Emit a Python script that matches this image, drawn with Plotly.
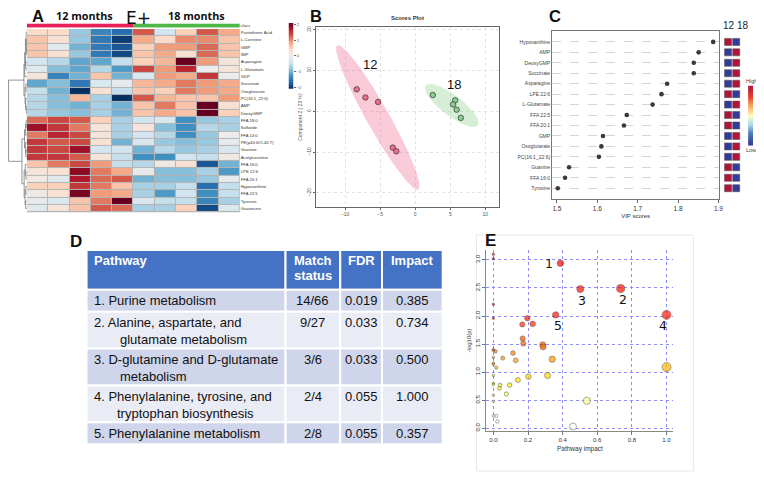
import numpy as np
import plotly.graph_objects as go

# The page body has an 8px default margin, so the figure is drawn 8px in from the top-left.
OFF = 8
W, H = 764 - OFF, 480 - OFF
def fx(p): return (p - OFF) / W
def fy(p): return 1 - (p - OFF) / H

# ---------------- Panel A: heatmap data ----------------
heat_rows = ["Pantothenic Acid", "L-Carnitine", "GMP", "IMP", "Asparagine", "L-Glutamate", "GDP",
             "Succinate", "Oxoglutarate", "PC(16:1_22:6)", "AMP", "DeoxyGMP", "FFA 18:0", "Sulfatide",
             "FFA 14:0", "PE(p40:6/O-40:7)", "Guanine", "Acetylcarnitine", "FFA 16:0", "LPE 22:6",
             "FFA 20:1", "Hypoxanthine", "FFA 22:5", "Tyrosine", "Guanosine"]
heat_class = [0, 0, 0, 0, 0, 1, 1, 1, 1, 1]   # 0 = 12 months, 1 = 18 months
heat_z = [
    [0.4, 0.4, -0.8, -1.4, -1.6, 1.3, -0.4, 0.5, 1.3, 0.8],
    [0.6, 0.3, -0.8, -1.5, -2.0, 0.8, 0.4, 1.0, 1.0, 0.6],
    [0.6, -0.2, -1.0, -1.5, -1.8, 0.5, 0.9, 0.9, 1.2, 0.6],
    [0.6, 0.3, -0.8, -1.5, -1.9, 0.6, 0.8, 0.3, 1.2, 0.6],
    [-0.4, -0.6, -1.1, -1.1, -0.5, 0.5, 0.7, 2.2, 0.9, 0.2],
    [-0.2, -0.9, -1.1, -0.6, -1.2, 1.4, 0.9, 1.6, 0.0, 0.2],
    [0.2, -1.4, -1.0, 0.6, -1.0, -0.3, 0.9, 0.8, 1.5, 0.0],
    [-1.1, -0.9, -1.5, -0.3, -0.1, 0.7, 0.8, 1.1, 0.9, 0.8],
    [-0.5, -1.0, -2.2, 0.3, -0.5, 0.6, 0.5, 1.1, 0.9, 0.8],
    [-0.6, -0.9, 0.7, -0.7, -2.1, 1.3, 0.7, 0.6, 0.6, 0.9],
    [-0.6, -0.9, -1.0, -0.7, -1.0, 0.6, 1.1, 0.6, 2.3, 0.3],
    [-0.6, -0.8, -0.9, -0.7, -1.0, 0.6, 0.8, 0.6, 2.3, 0.5],
    [1.2, 1.4, 1.3, 0.5, -0.7, -0.4, -0.3, -1.3, -0.8, -0.7],
    [1.8, 1.5, 1.1, 0.2, -0.7, 0.2, -0.9, -1.3, -0.6, -0.7],
    [1.1, 1.6, 1.4, 0.2, -0.7, -0.4, -0.6, -1.3, -0.8, 0.0],
    [1.5, 1.3, 1.4, 0.3, -1.0, -0.3, -0.8, -0.9, -0.8, -0.1],
    [1.5, 1.4, 1.8, -0.4, -0.4, -1.0, -0.6, -0.8, -0.7, -0.3],
    [1.5, 1.5, 1.3, 0.2, -0.5, -1.3, -1.3, -0.4, -0.5, 0.1],
    [0.6, 1.1, 1.4, 0.9, -0.5, -0.6, 0.1, 0.3, -1.8, -1.0],
    [0.2, 0.3, 1.9, 1.1, 0.8, -0.1, -0.9, -0.9, -0.7, -1.2],
    [0.1, -0.2, 1.7, 1.2, 1.3, -1.0, -0.9, -0.9, -0.8, -0.1],
    [0.5, 0.5, 1.5, 1.1, 0.6, -0.7, -0.7, -0.5, -1.6, -0.5],
    [0.1, 0.3, 2.0, 0.9, 0.8, -0.7, -1.2, -0.4, -1.3, -0.5],
    [-0.1, -0.3, 0.6, 1.1, 2.3, -0.3, -0.5, -0.5, -1.4, -0.7],
    [-0.2, 0.2, 0.6, 1.3, 1.2, -0.7, -0.7, 0.5, -1.9, -0.3],
]
heat_ticks = [-2, -1, 0, 1, 2]
# dendrogram: (height, left, right); leaves are row indices
dendro_tree = (10.0,
               (1.6,
                (1.2, (0.8, (0.4, 0, (0.3, 1, (0.2, 2, 3))), (0.6, 4, 5)), 6),
                (1.0, (0.5, 7, 8), (0.7, 9, (0.3, 10, 11)))),
               (2.7,
                (1.3, (0.7, (0.4, 12, 13), 14), (0.8, 15, (0.5, 16, 17))),
                (1.5, (0.9, 18, (0.5, 19, 20)), (1.0, (0.6, 21, 22), (0.7, 23, 24)))))

# ---------------- Panel B: scores plot ----------------
pc1_12 = [-8.35, -7.1, -5.3, -3.2, -2.7]
pc2_12 = [5.4, 3.4, 2.3, -8.9, -9.8]
pc1_18 = [2.5, 5.7, 5.4, 5.9, 6.5]
pc2_18 = [4.0, 2.7, 1.7, 0.4, -1.6]
b_xticks = [-10, -5, 0, 5, 10]
b_yticks = [-20, -10, 0, 10, 20]

# ---------------- Panel C: VIP scores ----------------
vip_names = ["Hypoxanthine", "AMP", "DeoxyGMP", "Succinate", "Asparagine", "LPE 22:6", "L-Glutamate",
             "FFA 22:5", "FFA 20:1", "GMP", "Oxoglutarate", "PC(16:1_22:6)", "Guanine", "FFA 16:0", "Tyrosine"]
vip_scores = [1.887, 1.851, 1.839, 1.839, 1.773, 1.759, 1.737, 1.673, 1.666, 1.614, 1.610, 1.604,
              1.530, 1.520, 1.502]
vip_level_12 = [1, 0, 0, 0, 0, 1, 0, 1, 1, 0, 0, 0, 1, 1, 1]
vip_level_18 = [0, 1, 1, 1, 1, 0, 1, 0, 0, 1, 1, 1, 0, 0, 0]
vip_xticks = [1.5, 1.6, 1.7, 1.8, 1.9]

# ---------------- Panel D: table ----------------
tbl_pathway = ["1. Purine metabolism",
               "2. Alanine, aspartate, and|glutamate metabolism",
               "3. D-glutamine and D-glutamate|metabolism",
               "4. Phenylalanine, tyrosine, and|tryptophan biosynthesis",
               "5. Phenylalanine metabolism"]
tbl_match = ["14/66", "9/27", "3/6", "2/4", "2/8"]
tbl_fdr = ["0.019", "0.033", "0.033", "0.055", "0.055"]
tbl_impact = ["0.385", "0.734", "0.500", "1.000", "0.357"]
tbl_header = ["Pathway", "Match|status", "FDR", "Impact"]

# ---------------- Panel E: pathway impact ----------------
pw_impact = [0.387, 0.502, 0.735, 1.0, 0.360, 1.0, 0.54, 0.46,
             0.196, 0.167, 0.227, 0.169, 0.173, 0.285, 0.287,
             0.113, 0.129, 0.054, 0.340,
             0.313, 0.202, 0.142,
             0.094, 0.038, 0.035, 0.075,
             0, 0, 0, 0, 0, 0, 0.013, 0, 0, 0, 0.017, 0, 0, 0, 0, 0, 0, 0.017, 0.023]
pw_logp = [2.94, 2.48, 2.49, 2.02, 2.02, 1.09, 0.49, 0.03,
           1.96, 1.85, 1.86, 1.60, 1.51, 1.49, 1.45,
           1.34, 1.21, 1.25, 1.23,
           0.94, 0.92, 0.86,
           0.77, 0.77, 0.71, 0.61,
           3.10, 3.02, 2.21, 1.96, 1.40, 1.39, 1.37, 1.26, 1.16, 1.14, 1.08, 0.94, 0.80, 0.78, 0.59,
           0.48, 0.22, 0.22, 0.12]
pw_label = ["1", "3", "2", "4", "5"] + [""] * 40
e_xticks = [0.0, 0.2, 0.4, 0.6, 0.8, 1.0]
e_yticks = [0.0, 0.5, 1.0, 1.5, 2.0, 2.5, 3.0]

FONT = "Liberation Sans"
fig = go.Figure()
annotations = []
shapes = []

# ---- A heatmap ----
rdbu = [[0.0, "#053061"], [0.1, "#2166ac"], [0.2, "#4393c3"], [0.3, "#92c5de"], [0.4, "#d1e5f0"],
        [0.5, "#ececec"], [0.6, "#fddbc7"], [0.7, "#f4a582"], [0.8, "#d6604d"], [0.9, "#b2182b"],
        [1.0, "#67001f"]]
nrow = len(heat_rows)
fig.add_trace(go.Heatmap(
    z=heat_z, x=list(range(len(heat_class))), y=list(range(nrow)), colorscale=rdbu,
    zmin=-2.1, zmax=2.1, xgap=1, ygap=1, xaxis="x", yaxis="y", hoverinfo="skip", showscale=False))
# colour key for A (own small axis)
key_a = list(np.linspace(-2.1, 2.1, 60))
fig.add_trace(go.Heatmap(z=[[v] for v in key_a], x=[0], y=key_a, colorscale=rdbu, zmin=-2.1,
                         zmax=2.1, showscale=False, xaxis="x8", yaxis="y8", hoverinfo="skip"))
fig.add_trace(go.Heatmap(
    z=[heat_class], x=list(range(len(heat_class))), y=[0], showscale=False,
    colorscale=[[0, "#e8205a"], [0.5, "#e8205a"], [0.5, "#4db848"], [1, "#4db848"]],
    zmin=0, zmax=1, xaxis="x2", yaxis="y2", hoverinfo="skip"))

# dendrogram lines
dx, dy = [], []
def walk(node):
    if isinstance(node, int):
        return 0.0, float(node)
    h, l, r = node
    lx, ly = walk(l)
    rx, ry = walk(r)
    dx.extend([lx, h, h, rx, None])
    dy.extend([ly, ly, ry, ry, None])
    return h, (ly + ry) / 2
walk(dendro_tree)
fig.add_trace(go.Scatter(x=dx, y=dy, mode="lines", line=dict(color="#7a7a7a", width=0.8),
                         xaxis="x3", yaxis="y3", hoverinfo="skip", showlegend=False))

# ---- B scores plot ----
def ellipse(xs, ys, n=120):
    pts = np.vstack([xs, ys])
    m = pts.mean(axis=1)
    cov = np.cov(pts)
    vals, vecs = np.linalg.eigh(cov)
    t = np.linspace(0, 2 * np.pi, n)
    circ = np.vstack([np.cos(t), np.sin(t)])
    e = vecs @ np.diag(np.sqrt(vals) * np.sqrt(5.991)) @ circ
    return m[0] + e[0], m[1] + e[1]

for xs, ys, fillc, ptc in [(pc1_12, pc2_12, "rgba(238,110,150,0.36)", "#ea6d8b"),
                           (pc1_18, pc2_18, "rgba(120,200,120,0.30)", "#84cf8f")]:
    ex, ey = ellipse(xs, ys)
    fig.add_trace(go.Scatter(x=ex, y=ey, mode="lines", fill="toself", fillcolor=fillc,
                             line=dict(width=0), xaxis="x4", yaxis="y4", hoverinfo="skip",
                             showlegend=False))
    fig.add_trace(go.Scatter(x=xs, y=ys, mode="markers",
                             marker=dict(size=5.5, color=ptc, line=dict(color="#333", width=0.7)),
                             xaxis="x4", yaxis="y4", showlegend=False))

# ---- C VIP ----
vip_idx = list(range(len(vip_names)))
fig.add_trace(go.Scatter(x=vip_scores, y=vip_idx, mode="markers",
                         marker=dict(size=4.6, color="#3a3a3a"), xaxis="x5", yaxis="y5",
                         showlegend=False))
vipcs = [[0.0, "#313695"], [0.2, "#4a7bb7"], [0.35, "#abd9e9"], [0.5, "#ffffbf"],
         [0.65, "#fdae61"], [0.8, "#e8402b"], [1.0, "#b3133b"]]
lvl_col = {0: "#343a9c", 1: "#b3133b"}
fig.add_trace(go.Scatter(
    x=[0] * len(vip_idx) + [1] * len(vip_idx), y=vip_idx + vip_idx, mode="markers",
    marker=dict(symbol="square", size=7, color=[lvl_col[v] for v in vip_level_12 + vip_level_18],
                line=dict(color="#555", width=0.6)),
    xaxis="x6", yaxis="y6", showlegend=False, hoverinfo="skip"))
key_c = list(np.linspace(0, 1, 60))
fig.add_trace(go.Heatmap(z=[[v] for v in key_c], x=[0], y=key_c, colorscale=vipcs, zmin=0,
                         zmax=1, showscale=False, xaxis="x9", yaxis="y9", hoverinfo="skip"))

# ---- D table (drawn as a grid) ----
tbl_left, tbl_top = 87, 250
col_w = [200, 55, 42, 61]
head_h = 40
line_h1, line_h2 = 22, 37
row_fill = ["#cfd5ea", "#e9ebf5"]
col_x = [tbl_left + sum(col_w[:i]) for i in range(len(col_w) + 1)]
columns = [tbl_pathway, tbl_match, tbl_fdr, tbl_impact]

def cell_rect(x0, x1, y0, y1, color):
    shapes.append(dict(type="rect", xref="paper", yref="paper", x0=fx(x0), x1=fx(x1),
                       y0=fy(y1), y1=fy(y0), fillcolor=color, line=dict(color="white", width=2),
                       layer="below"))

def cell_text(text, x, y, anchor, size, color, bold=False):
    annotations.append(dict(x=fx(x), y=fy(y), xref="paper", yref="paper", showarrow=False,
                            text=("<b>%s</b>" % text) if bold else text, xanchor=anchor,
                            yanchor="middle", font=dict(size=size, color=color, family=FONT)))

for ci, h in enumerate(tbl_header):
    cell_rect(col_x[ci], col_x[ci + 1], tbl_top, tbl_top + head_h, "#4472c4")
    for li, part in enumerate(h.split("|")):
        if ci == 0:
            cell_text(part, col_x[ci] + 5, tbl_top + 11 + 15 * li, "left", 13, "white", True)
        else:
            cell_text(part, (col_x[ci] + col_x[ci + 1]) / 2, tbl_top + 11 + 15 * li, "center", 13,
                      "white", True)

y_cur = tbl_top + head_h
for ri in range(len(tbl_pathway)):
    nlines = len(tbl_pathway[ri].split("|"))
    rh = line_h1 if nlines == 1 else line_h2
    for ci, col in enumerate(columns):
        cell_rect(col_x[ci], col_x[ci + 1], y_cur, y_cur + rh, row_fill[ri % 2])
        parts = col[ri].split("|")
        for li, part in enumerate(parts):
            if ci == 0:
                indent = 0 if li == 0 else (24 if parts[0].startswith("4.") else 27)
                cell_text(part, col_x[ci] + 5 + indent, y_cur + 11 + 17 * li, "left", 13, "#111")
            else:
                cell_text(part, (col_x[ci] + col_x[ci + 1]) / 2, y_cur + 11 + 17 * li, "center",
                          13, "#111")
    y_cur += rh

# ---- E pathway impact ----
e_cs = [[0.0, "#ffffff"], [0.09, "#ffffff"], [0.16, "#ffff99"], [0.24, "#ffff00"],
        [0.32, "#ffd200"], [0.40, "#ffa000"], [0.47, "#ff7000"], [0.55, "#ff4500"],
        [0.65, "#ff1a00"], [1.0, "#ff0000"]]
fig.add_trace(go.Scatter(
    x=pw_impact, y=pw_logp, mode="markers",
    marker=dict(size=[2.5 + 6.5 * np.sqrt(v) for v in pw_impact], color=pw_logp, colorscale=e_cs,
                cmin=0, cmax=3, line=dict(color="#333", width=0.6)),
    xaxis="x7", yaxis="y7", showlegend=False))

for xv, yv, lab in zip(pw_impact, pw_logp, pw_label):
    if not lab:
        continue
    if lab == "1":
        xs_, ys_ = -11, 0
    elif lab == "4":
        xs_, ys_ = -4, -11
    else:
        xs_, ys_ = 2, -11
    annotations.append(dict(x=xv, y=yv, xref="x7", yref="y7", text=lab, showarrow=False,
                            xshift=xs_, yshift=ys_, font=dict(size=12.5, color="#111", family="DejaVu Sans")))

# group labels in B
annotations.append(dict(x=np.mean(pc1_12), y=max(pc2_12), xref="x4", yref="y4", text="12",
                        showarrow=False, xshift=-8, yshift=25, font=dict(size=13, color="#111")))
annotations.append(dict(x=np.mean(pc1_18), y=max(pc2_18), xref="x4", yref="y4", text="18",
                        showarrow=False, xshift=2, yshift=11, font=dict(size=13, color="#111")))

def pa(text, x, y, size, bold=False, family=FONT, color="#111"):
    annotations.append(dict(x=fx(x), y=fy(y), xref="paper", yref="paper", showarrow=False,
                            text=("<b>%s</b>" % text) if bold else text,
                            font=dict(size=size, family=family, color=color),
                            xanchor="center", yanchor="middle", borderpad=0))
pa("A", 38, 15.5, 16.5, True)
pa("12 months", 85, 15, 10.8, True, "Open Sans")
pa("E+", 139, 17, 17, False, "DejaVu Sans")
pa("18 months", 198, 15, 10.8, True, "Open Sans")
pa("B", 318, 15, 16.5, True)
pa("Scores Plot", 410, 17, 6, True, color="#333")
pa("C", 558, 15, 16.5, True)
pa("12 18", 739, 25, 10, False, color="#222")
pa("High", 755, 80, 5.5, False, color="#444")
pa("Low", 755, 150, 5.5, False, color="#444")
pa("D", 76, 241, 17, True)
pa("E", 493, 240, 17, True)

shapes.append(dict(type="rect", xref="x domain", yref="y domain", x0=0, x1=1, y0=0, y1=1,
                   fillcolor="#b5b5b5", line=dict(width=0), layer="below"))
shapes.append(dict(type="rect", xref="paper", yref="paper", x0=fx(479), x1=fx(697), y0=fy(472),
                   y1=fy(235), line=dict(color="#e8e8e8", width=1), layer="below"))

noax = dict(showgrid=False, zeroline=False, showticklabels=False, showline=False, ticks="")
tickf = dict(size=5, color="#555", family=FONT)
fig.update_layout(
    width=W, height=H, margin=dict(l=0, r=0, t=0, b=0), paper_bgcolor="white",
    plot_bgcolor="white", font=dict(family=FONT), showlegend=False, annotations=annotations,
    shapes=shapes,
    xaxis=dict(domain=[fx(27), fx(241)], range=[-0.5, 9.5], **noax),
    yaxis=dict(domain=[fy(212), fy(28)], range=[nrow - 0.5, -0.5], side="right",
               tickvals=list(range(nrow)), ticktext=heat_rows, showgrid=False, zeroline=False,
               tickfont=dict(size=4.2, color="#333"), ticks="", anchor="x"),
    xaxis2=dict(domain=[fx(27), fx(241)], range=[-0.5, 9.5], anchor="y2", **noax),
    yaxis2=dict(domain=[fy(27), fy(22.5)], range=[-0.5, 0.5], side="right", tickvals=[0],
                ticktext=["class"], showgrid=False, zeroline=False,
                tickfont=dict(size=4.2, color="#333"), ticks="", anchor="x2"),
    xaxis3=dict(domain=[fx(8), fx(27)], range=[10.3, 0], anchor="y3", **noax),
    yaxis3=dict(domain=[fy(212), fy(28)], range=[nrow - 0.5, -0.5], anchor="x3", **noax),
    xaxis8=dict(domain=[fx(290), fx(295)], range=[-0.5, 0.5], anchor="y8", **noax),
    yaxis8=dict(domain=[fy(88), fy(22)], range=[-2.1, 2.1], anchor="x8", side="right",
                tickvals=heat_ticks, showgrid=False, zeroline=False, ticks="outside", ticklen=1.5,
                tickcolor="#666", tickfont=dict(size=4, color="#444")),
    xaxis4=dict(domain=[fx(318), fx(502)], range=[-14.1, 12.0], tickvals=b_xticks, anchor="y4",
                showgrid=True, gridcolor="#e2e2e2", griddash="dot", zeroline=False, showline=True,
                mirror=True, linecolor="#666", linewidth=1, ticks="outside", ticklen=2,
                tickcolor="#666", tickfont=tickf),
    yaxis4=dict(domain=[fy(207), fy(26)], range=[-23.5, 20.7], tickvals=b_yticks, anchor="x4",
                showgrid=True, gridcolor="#e2e2e2", griddash="dot", zeroline=False, showline=True,
                mirror=True, linecolor="#666", linewidth=1, ticks="outside", ticklen=2,
                tickcolor="#666", tickfont=tickf, tickangle=-90,
                title=dict(text="Component 2 ( 23 %)", font=dict(size=5, color="#555"), standoff=3)),
    xaxis5=dict(domain=[fx(555), fx(723)], range=[1.488, 1.902], tickvals=vip_xticks, anchor="y5",
                showgrid=False, zeroline=False, showline=True, mirror=True, linecolor="#777",
                ticks="outside", ticklen=3, tickcolor="#666", tickformat=".1f",
                tickfont=dict(size=6.5, color="#333"),
                title=dict(text="VIP scores", font=dict(size=6, color="#333"), standoff=2)),
    yaxis5=dict(domain=[fy(199), fy(30)], range=[len(vip_names) - 1 + 1.05, -1.05],
                tickvals=vip_idx, ticktext=vip_names, anchor="x5", showgrid=True,
                gridcolor="#d5d5d5", griddash="dash", gridwidth=0.6, zeroline=False,
                showline=True, mirror=True, linecolor="#777", ticks="",
                tickfont=dict(size=5, color="#444")),
    xaxis6=dict(domain=[fx(727), fx(745)], range=[-0.6, 1.6], anchor="y6", **noax),
    yaxis6=dict(domain=[fy(199), fy(30)], range=[len(vip_names) - 1 + 1.05, -1.05], anchor="x6",
                **noax),
    xaxis9=dict(domain=[fx(752), fx(757)], range=[-0.5, 0.5], anchor="y9", **noax),
    yaxis9=dict(domain=[fy(145), fy(85)], range=[0, 1], anchor="x9", **noax),
    xaxis7=dict(domain=[fx(489), fx(677)], range=[-0.04, 1.04], tickvals=e_xticks, anchor="y7",
                tickformat=".1f", showgrid=True, gridcolor="#8c8cff", griddash="dot",
                zeroline=False, showline=True, linecolor="#888", ticks="outside", ticklen=3,
                tickcolor="#777", tickfont=dict(size=6, color="#333"),
                title=dict(text="Pathway impact", font=dict(size=6.5, color="#333"), standoff=4)),
    yaxis7=dict(domain=[fy(431.3), fy(250.4)], range=[-0.04, 3.17], tickvals=e_yticks, anchor="x7",
                tickformat=".1f", showgrid=True, gridcolor="#8c8cff", griddash="dot",
                zeroline=False, showline=True, linecolor="#888", ticks="outside", ticklen=3,
                tickcolor="#777", tickfont=dict(size=6, color="#333"), tickangle=-90,
                title=dict(text="-log10(p)", font=dict(size=6, color="#333"), standoff=2)),
)

fig.write_html("out.html")
